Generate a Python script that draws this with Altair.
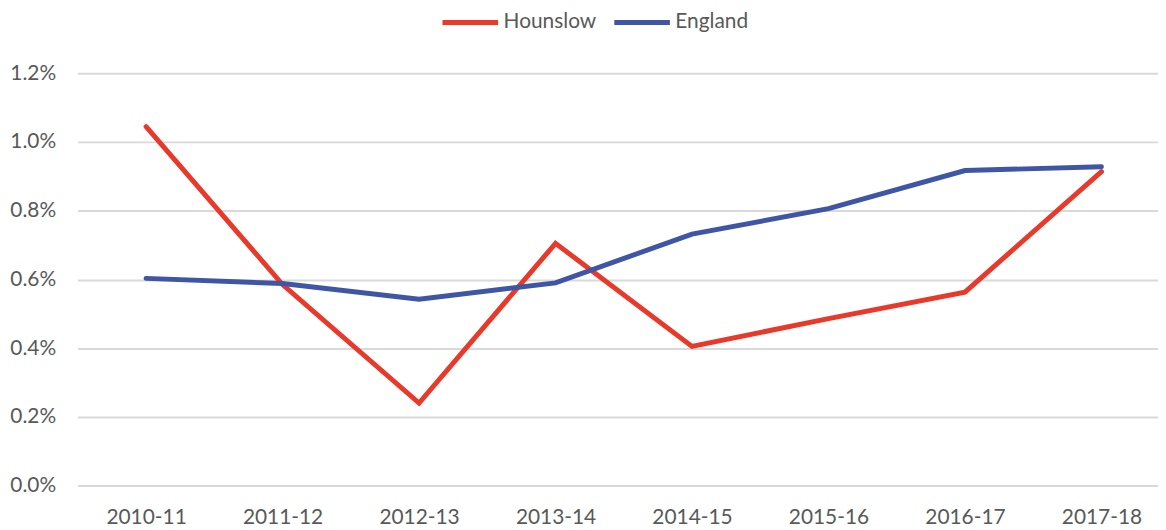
import altair as alt
import pandas as pd

years = ["2010-11", "2011-12", "2012-13", "2013-14", "2014-15", "2015-16", "2016-17", "2017-18"]
hounslow = [0.01045, 0.00585, 0.00240, 0.00705, 0.00405, 0.00486, 0.00563, 0.00914]
england = [0.00603, 0.00588, 0.00542, 0.00590, 0.00732, 0.00806, 0.00917, 0.00928]
series = ["Hounslow", "England"]
colors = ["#E8392A", "#3F56A6"]
y_ticks = [0.0, 0.002, 0.004, 0.006, 0.008, 0.010, 0.012]

rows = []
for i, y in enumerate(years):
    rows.append({"year": y, "series": "Hounslow", "value": hounslow[i]})
    rows.append({"year": y, "series": "England", "value": england[i]})
df = pd.DataFrame(rows)

FONT = "Lato"
FS = 21

chart = alt.Chart(df).mark_line(strokeWidth=5, strokeCap="round", strokeJoin="miter").encode(
    x=alt.X("year:O", sort=years, title=None,
            scale=alt.Scale(type="point", padding=0.4584, align=0.548),
            axis=alt.Axis(labelAngle=0, domain=False, ticks=False, grid=False,
                          labelFontSize=FS, labelColor="#595959", labelFont=FONT, labelPadding=21)),
    y=alt.Y("value:Q", title=None,
            scale=alt.Scale(domain=[0, 0.012], nice=False),
            axis=alt.Axis(values=y_ticks, format=".1%", domain=False, ticks=False,
                          gridColor="#D9D9D9", gridWidth=2,
                          labelFontSize=FS, labelColor="#595959", labelFont=FONT, labelPadding=22)),
    color=alt.Color("series:N", sort=series,
                    scale=alt.Scale(domain=series, range=colors),
                    legend=alt.Legend(title=None, orient="none", direction="horizontal",
                                      legendX=365, legendY=-82,
                                      symbolType="stroke", symbolSize=3136, symbolStrokeWidth=5,
                                      labelFontSize=FS, labelColor="#595959", labelFont=FONT,
                                      labelOffset=3, columnPadding=7)),
).properties(
    width=1088, height=415,
    autosize=alt.AutoSizeParams(type="none"),
    padding={"left": 70, "top": 64, "right": 0, "bottom": 40},
).configure_view(stroke=None)

chart.save("out.html", embed_options={"renderer": "svg", "actions": False})
